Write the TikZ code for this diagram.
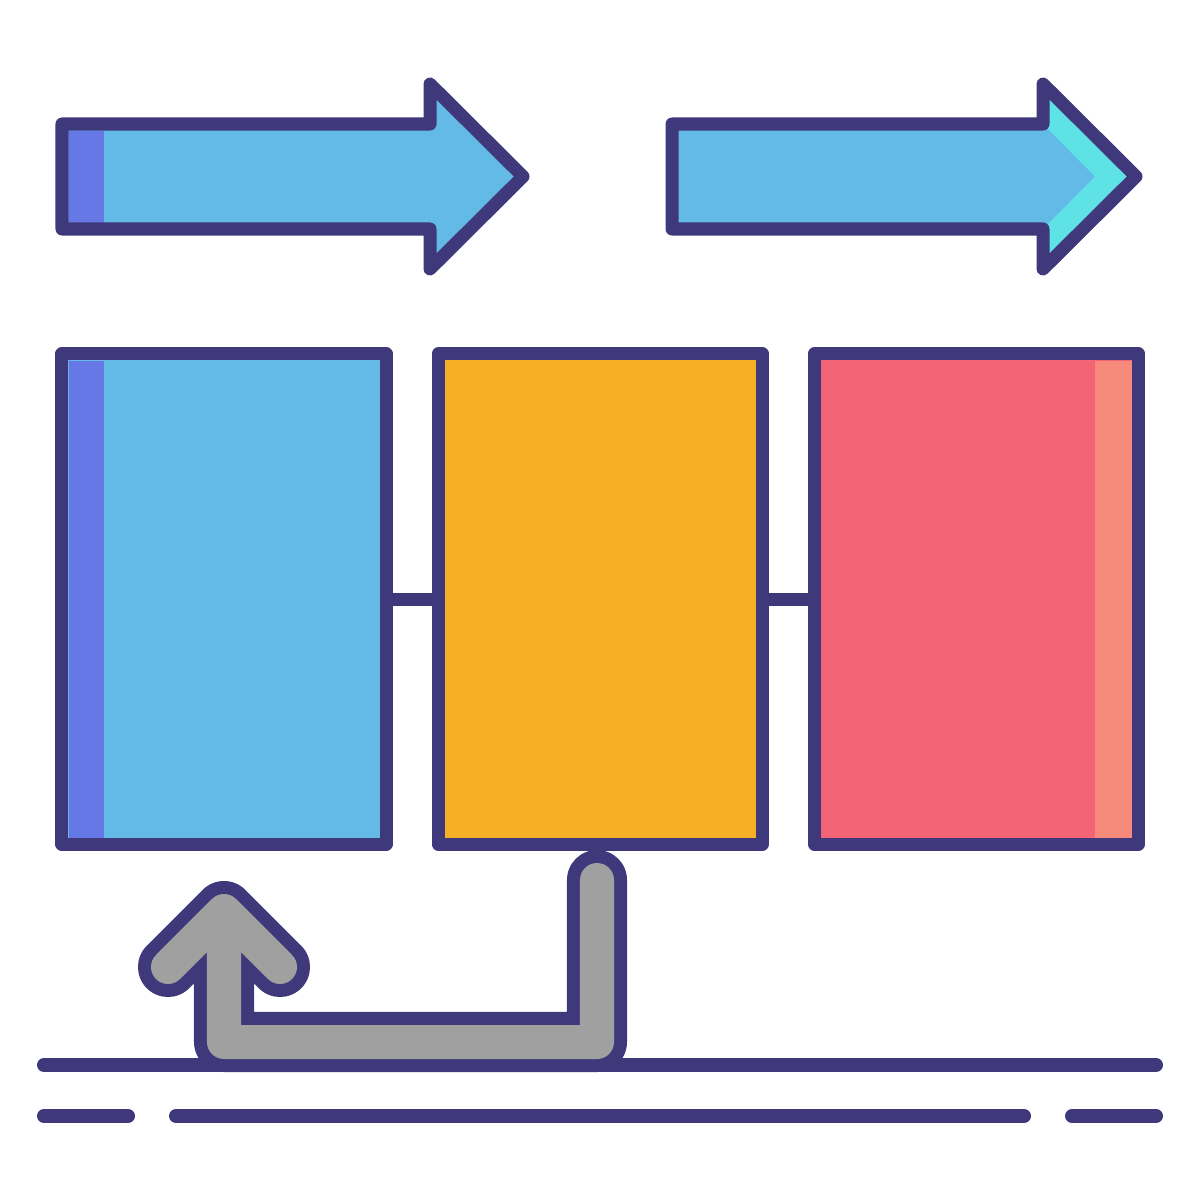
\documentclass[tikz,border=0pt]{standalone}
\usetikzlibrary{positioning}
\definecolor{ink}{HTML}{3F387A}
\definecolor{sky}{HTML}{63BAE6}
\definecolor{violet}{HTML}{6578E6}
\definecolor{aqua}{HTML}{5EE2E6}
\definecolor{amber}{HTML}{F7AF26}
\definecolor{coral}{HTML}{F36476}
\definecolor{salmon}{HTML}{F5897A}
\definecolor{stone}{HTML}{A0A0A0}

\begin{document}
\begin{tikzpicture}[x=0.01cm, y=-0.01cm]
    \tikzset{panel/.style={rectangle, draw=ink, line width=0.13cm, line join=round, inner sep=0pt, outer sep=0pt, minimum width=3.24cm, minimum height=4.9cm},
        outline/.style={draw=ink, line width=0.13cm, line join=round},
        rule/.style={ink, line width=0.14cm, line cap=round}};
    \useasboundingbox (0,0) rectangle (1200,1200);

    % top arrows
    \fill[sky] (62,124) -- (430,124) -- (430,84) -- (523,176.5) -- (430,269) -- (430,229) -- (62,229) -- cycle;
    \fill[violet] (68.5,130.5) rectangle (104,222.5);
    \draw[outline] (62,124) -- (430,124) -- (430,84) -- (523,176.5) -- (430,269) -- (430,229) -- (62,229) -- cycle;

    \fill[sky] (672,124) -- (1043,124) -- (1043,84) -- (1136,176.5) -- (1043,269) -- (1043,229) -- (672,229) -- cycle;
    \fill[aqua] (1043,124) -- (1043,84) -- (1136,176.5) -- (1043,269) -- (1043,229) -- (1095,176.5) -- cycle;
    \draw[outline] (672,124) -- (1043,124) -- (1043,84) -- (1136,176.5) -- (1043,269) -- (1043,229) -- (672,229) -- cycle;

    % three columns
    \node[panel, fill=sky] (first) at (224,599) {};
    \node[panel, fill=amber, right=0.52cm of first] (second) {};
    \node[panel, fill=coral, right=0.52cm of second] (third) {};
    \fill[violet] (68.5,360.5) rectangle (104,837.5);
    \fill[salmon] (1095,360.5) rectangle (1131.5,837.5);
    \draw[outline] (first.east) -- (second.west);
    \draw[outline] (second.east) -- (third.west);

    % ground lines
    \draw[rule] (44,1065) -- (1156,1065);
    \draw[rule] (44,1116) -- (128,1116) (176,1116) -- (1024,1116) (1072,1116) -- (1156,1116);

    % loop back arrow
    \coordinate (stem) at (597,880);
    \coordinate (bend) at (597,1042);
    \coordinate (turn) at (224,1042);
    \coordinate (head) at (224,911);
    \foreach \w/\c in {0.6cm/ink, 0.34cm/stone}
        \draw[line width=\w, \c, line cap=round, line join=round] (stem) -- (bend) -- (turn) -- (head) (168,967) -- (head) -- (280,967);
\end{tikzpicture}
\end{document}
